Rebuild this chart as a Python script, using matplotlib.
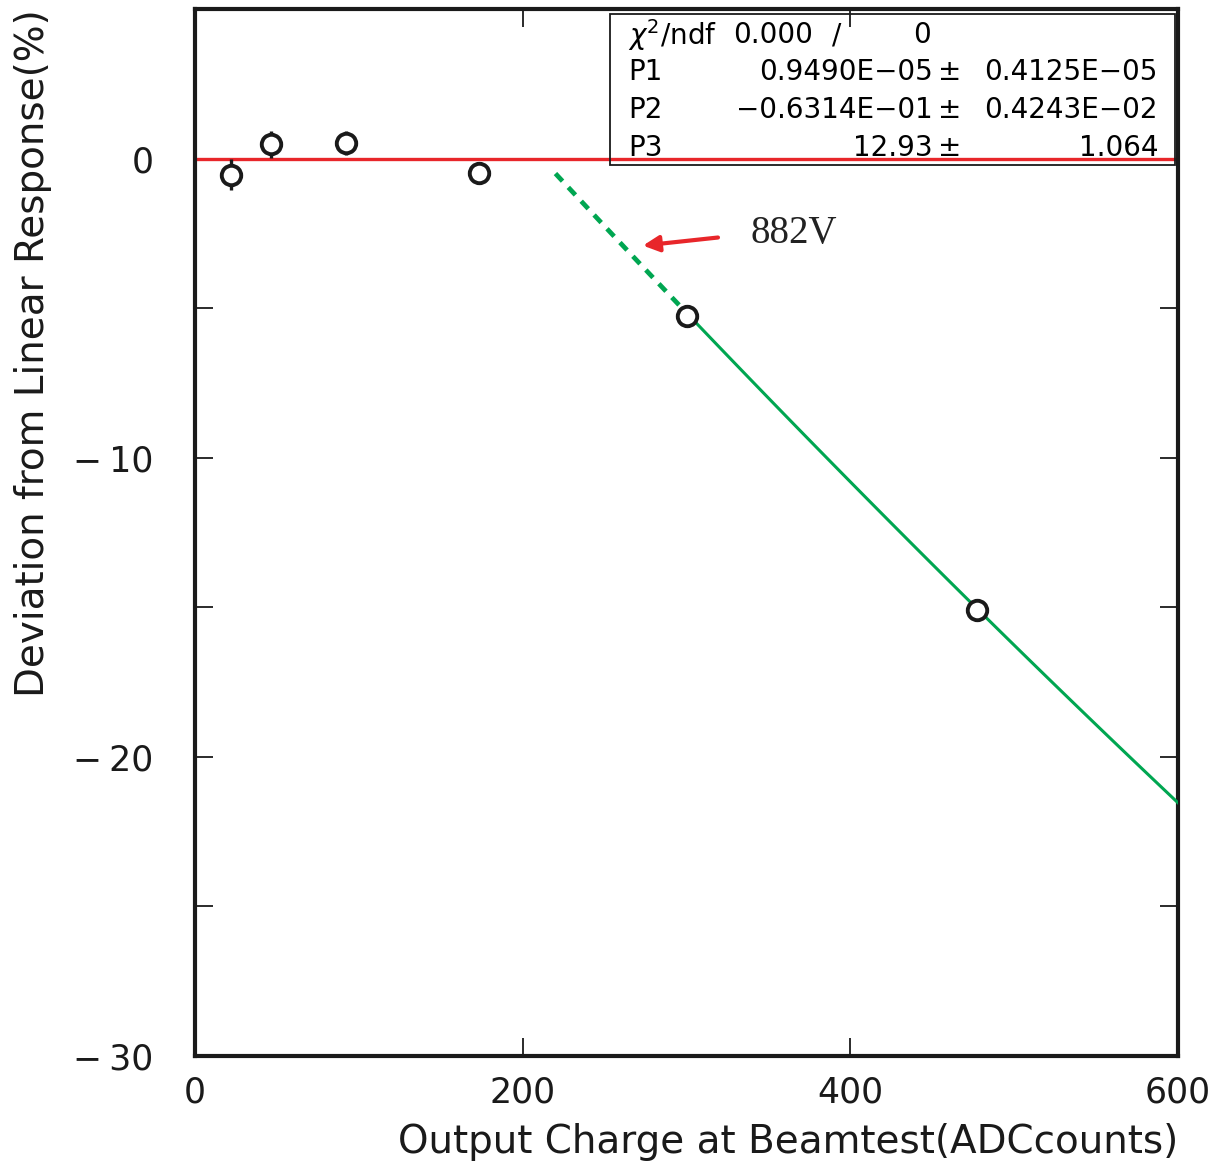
import numpy as np
import matplotlib.pyplot as plt
from matplotlib.ticker import MultipleLocator, FuncFormatter

# measured deviation from linearity
charge = [22.0, 46.4, 92.2, 173.3, 300.3, 477.3]
deviation = [-0.54, 0.47, 0.52, -0.48, -5.28, -15.1]
dev_err = [0.52, 0.44, 0.40, 0.25, 0.2, 0.2]

# quadratic fit p1*x^2 + p2*x + p3
p1, p2, p3 = 0.9490e-05, -0.6314e-01, 12.93
fit_rows = [
    ("P1", "0.9490E\u221205", "0.4125E\u221205"),
    ("P2", "\u22120.6314E\u221201", "0.4243E\u221202"),
    ("P3", "12.93", "1.064"),
]

def quad(x):
    return p1 * x**2 + p2 * x + p3

fig = plt.figure(figsize=(12.22, 11.64), dpi=100)
ax = fig.add_axes([0.1596, 0.0928, 0.8044, 0.8995])

ax.axhline(0, color='#e8262a', lw=2.4, zorder=2)

x_dash = np.linspace(220, 305, 50)
x_solid = np.linspace(305, 600, 100)
ax.plot(x_dash, quad(x_dash), color='#00a651', lw=3.4, ls=(0, (2.2, 1.8)), zorder=3)
ax.plot(x_solid, quad(x_solid), color='#00a651', lw=2.2, zorder=3)

ax.errorbar(charge, deviation, yerr=dev_err, fmt='none', ecolor='#1a1a1a',
            elinewidth=2.4, capsize=0, zorder=4)
ax.plot(charge, deviation, 'o', ms=14, mfc='white', mec='#1a1a1a', mew=2.8,
        ls='none', zorder=5)

ax.annotate('', xy=(273.4, -2.91), xytext=(319.2, -2.64),
            arrowprops=dict(arrowstyle='-|>', color='#e8262a', lw=3,
                            mutation_scale=24, shrinkA=0, shrinkB=0))
ax.text(339, -2.5, '882V', family='Liberation Serif', fontsize=28,
        va='center', ha='left', color='#222222')

ax.set_xlim(0, 600)
ax.set_ylim(-30, 5)
ax.xaxis.set_major_locator(MultipleLocator(200))
ax.yaxis.set_major_locator(MultipleLocator(5))
ax.yaxis.set_major_formatter(FuncFormatter(
    lambda v, pos: '' if round(v) % 10 else f'{int(round(v))}'.replace('-', '\u2212\u2009')))
ax.tick_params(direction='in', length=13, width=1.3, top=True, right=True,
               labelsize=25, colors='#1a1a1a')
ax.tick_params(axis='y', pad=30)
ax.tick_params(axis='x', pad=14)
for s in ax.spines.values():
    s.set_linewidth(3)
    s.set_color('#1a1a1a')

label_font = dict(fontsize=28, color='#1a1a1a')
ax.set_xlabel('Output Charge at Beamtest(ADCcounts)', loc='right', labelpad=10,
              **label_font)
ax.set_ylabel('Deviation from Linear Response(%)', loc='top', labelpad=15,
              **label_font)

# fit statistics box
bx0, by0, bx1, by1 = 610, 14, 1175, 165
W, H = 1222, 1164
box = plt.Rectangle((bx0 / W, 1 - by1 / H), (bx1 - bx0) / W, (by1 - by0) / H,
                    transform=fig.transFigure, fill=False, lw=1.3,
                    edgecolor='#1a1a1a', zorder=5)
fig.add_artist(box)
fs = 20
rows_y = [35, 72, 110, 148]
fig.text(628 / W, 1 - rows_y[0] / H, r'$\chi^2$/ndf', fontsize=fs,
         va='center', ha='left')
fig.text(733 / W, 1 - rows_y[0] / H, '0.000', fontsize=fs, va='center', ha='left')
fig.text(837 / W, 1 - rows_y[0] / H, '/', fontsize=fs, va='center', ha='center')
fig.text(922 / W, 1 - rows_y[0] / H, '0', fontsize=fs, va='center', ha='center')
for (name, val, err), yy in zip(fit_rows, rows_y[1:]):
    fig.text(628 / W, 1 - yy / H, name, fontsize=fs, va='center', ha='left')
    fig.text(933 / W, 1 - yy / H, val, fontsize=fs, va='center', ha='right')
    fig.text(950 / W, 1 - yy / H, '\u00b1', fontsize=fs, va='center', ha='center')
    fig.text(1158 / W, 1 - yy / H, err, fontsize=fs, va='center', ha='right')

fig.savefig('out.png', dpi=100)
